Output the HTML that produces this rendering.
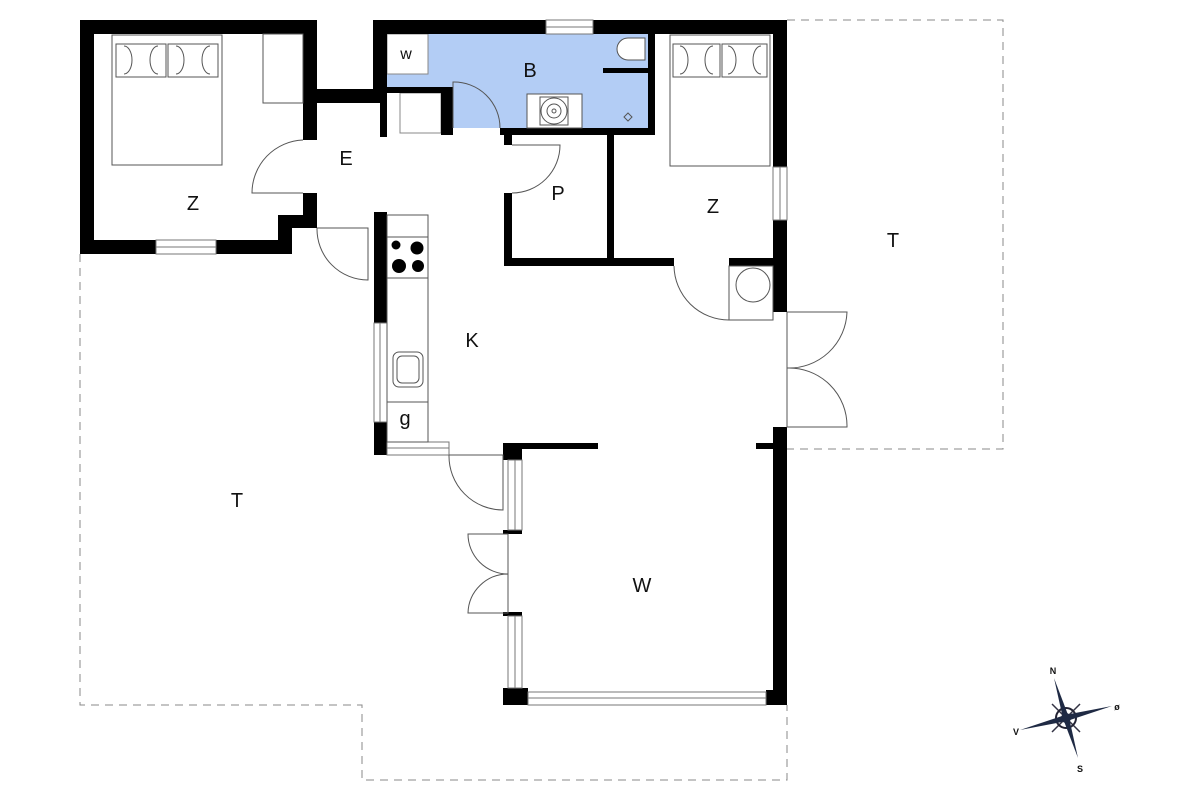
<!DOCTYPE html>
<html><head><meta charset="utf-8"><style>
html,body{margin:0;padding:0;background:#fff;}
svg{display:block}
text{font-family:"Liberation Sans",sans-serif;fill:#111;}
</style></head><body>
<svg width="1200" height="800" viewBox="0 0 1200 800" xmlns="http://www.w3.org/2000/svg">
<!-- bathroom fill -->
<rect x="387" y="34" width="261" height="94" fill="#b3cdf5"/>
<rect x="387" y="34" width="41" height="40" fill="#fff" stroke="#888" stroke-width="1"/>
<rect x="387" y="93" width="54" height="35" fill="#fff"/>
<rect x="400" y="93" width="41" height="40" fill="#fff" stroke="#888" stroke-width="1"/>

<!-- terraces dashed -->
<g fill="none" stroke="#888" stroke-width="1" stroke-dasharray="8,6">
<polyline points="787,20 1003,20 1003,449 787,449"/>
<polyline points="80,254 80,705 362,705 362,780 787,780 787,705"/>
</g>

<!-- walls -->
<g fill="#000">
<rect x="80" y="20" width="237" height="14"/>
<rect x="80" y="20" width="14" height="234"/>
<rect x="80" y="240" width="76" height="14"/>
<rect x="216" y="240" width="76" height="14"/>
<rect x="278" y="215" width="14" height="39"/>
<rect x="278" y="215" width="39" height="13"/>
<rect x="303" y="20" width="14" height="120"/>
<rect x="303" y="193" width="14" height="35"/>
<rect x="303" y="89" width="84" height="14"/>
<rect x="380" y="89" width="7" height="48"/>
<rect x="373" y="20" width="173" height="14"/>
<rect x="593" y="20" width="194" height="14"/>
<rect x="373" y="20" width="14" height="83"/>
<rect x="387" y="87" width="66" height="6"/>
<rect x="441" y="87" width="12" height="48"/>
<rect x="500" y="128" width="155" height="7"/>
<rect x="648" y="34" width="7" height="101"/>
<rect x="603" y="68" width="45" height="5"/>
<rect x="773" y="20" width="14" height="147"/>
<rect x="773" y="220" width="14" height="92"/>
<rect x="504" y="135" width="8" height="10"/>
<rect x="504" y="193" width="8" height="73"/>
<rect x="504" y="258" width="170" height="8"/>
<rect x="607" y="135" width="7" height="131"/>
<rect x="729" y="258" width="58" height="8"/>
<rect x="374" y="212" width="13" height="111"/>
<rect x="374" y="422" width="13" height="33"/>
<rect x="374" y="442" width="13" height="13"/>
<rect x="503" y="443" width="95" height="6"/>
<rect x="503" y="443" width="19" height="17"/>
<rect x="503" y="530" width="19" height="4"/>
<rect x="503" y="612" width="19" height="4"/>
<rect x="503" y="688" width="25" height="17"/>
<rect x="773" y="427" width="14" height="278"/>
<rect x="756" y="443" width="17" height="6"/>
<rect x="766" y="690" width="21" height="15"/>
</g>

<!-- windows -->
<g fill="#fff" stroke="#777" stroke-width="1">
<rect x="156" y="240" width="60" height="14"/><line x1="156" y1="247" x2="216" y2="247"/>
<rect x="546" y="20" width="47" height="14"/><line x1="546" y1="27" x2="593" y2="27"/>
<rect x="773" y="167" width="14" height="53"/><line x1="780" y1="167" x2="780" y2="220"/>
<rect x="374" y="323" width="13" height="99"/><line x1="380" y1="323" x2="380" y2="422"/>
<rect x="387" y="442" width="62" height="13"/><line x1="387" y1="448" x2="449" y2="448"/>
<rect x="508" y="460" width="14" height="70"/><line x1="515" y1="460" x2="515" y2="530"/>
<rect x="508" y="616" width="14" height="72"/><line x1="515" y1="616" x2="515" y2="688"/>
<rect x="528" y="692" width="238" height="13"/><line x1="528" y1="698" x2="766" y2="698"/>
</g>

<!-- doors / furniture lines -->
<g fill="none" stroke="#555" stroke-width="1">
<path d="M303,140 A53,53 0 0 0 252,193 L303,193"/>
<path d="M317,228 L368,228 L368,280 A51,51 0 0 1 317,228"/>
<path d="M453,128 L453,82 A46,46 0 0 1 500,128"/>
<path d="M512,145 L560,145 A48,48 0 0 1 512,193"/>
<path d="M674,266 A55,55 0 0 0 729,320 L729,266"/>
<rect x="729" y="266" width="44" height="54"/>
<circle cx="753" cy="285" r="17"/>
<path d="M787,312 L847,312 A58,58 0 0 1 787,368 A58,58 0 0 1 847,427 L787,427 L787,312"/>
<path d="M449,455 L503,455 L503,510 A54,54 0 0 1 449,455"/>
<path d="M508,534 L468,534 A40,40 0 0 0 508,574 A40,40 0 0 0 468,613 L508,613 Z"/>
<!-- left bedroom -->
<rect x="112" y="35" width="110" height="130"/>
<rect x="116" y="44" width="50" height="33"/><rect x="168" y="44" width="50" height="33"/>
<path d="M124,46 a8,14 0 0 1 0,28 M158,46 a8,14 0 0 0 0,28 M176,46 a8,14 0 0 1 0,28 M210,46 a8,14 0 0 0 0,28"/>
<rect x="263" y="34" width="40" height="69"/>
<!-- right bedroom -->
<rect x="670" y="35" width="100" height="131"/>
<rect x="673" y="44" width="47" height="33"/><rect x="722" y="44" width="45" height="33"/>
<path d="M680,46 a8,14 0 0 1 0,28 M713,46 a8,14 0 0 0 0,28 M728,46 a8,14 0 0 1 0,28 M761,46 a8,14 0 0 0 0,28"/>
<!-- bathroom fixtures -->
<path d="M645,38 L628,38 A11,11 0 0 0 628,60 L645,60 Z" fill="#fff"/>
<rect x="527" y="94" width="55" height="34" fill="#fff"/>
<circle cx="554" cy="111" r="13"/><circle cx="554" cy="111" r="7"/><circle cx="554" cy="111" r="2"/>
<rect x="540" y="97" width="28" height="28"/>
<path d="M628,113 l4,4 l-4,4 l-4,-4 z"/>
<!-- kitchen -->
<rect x="387" y="215" width="41" height="227"/>
<line x1="387" y1="237" x2="428" y2="237"/><line x1="387" y1="278" x2="428" y2="278"/>
<rect x="393" y="352" width="30" height="35" rx="6"/><rect x="397" y="356" width="22" height="27" rx="5"/>
<line x1="387" y1="402" x2="428" y2="402"/>
</g>
<g fill="#000">
<circle cx="396" cy="245" r="4.5"/><circle cx="417" cy="248" r="6.5"/>
<circle cx="399" cy="266" r="7"/><circle cx="418" cy="266" r="6"/>
</g>

<!-- labels -->
<g font-size="20" text-anchor="middle">
<text x="193" y="210">Z</text>
<text x="346" y="165">E</text>
<text x="530" y="77">B</text>
<text x="558" y="200">P</text>
<text x="713" y="213">Z</text>
<text x="893" y="247">T</text>
<text x="472" y="347">K</text>
<text x="405" y="425">g</text>
<text x="237" y="507">T</text>
<text x="642" y="592">W</text>
<text x="406" y="59" font-size="16">w</text>
</g>

<!-- compass -->
<g transform="translate(1066,718)">
<g stroke="#334" stroke-width="1.5"><line x1="-14" y1="-14" x2="14" y2="14"/><line x1="14" y1="-14" x2="-14" y2="14"/></g>
<circle r="10" fill="none" stroke="#223" stroke-width="2"/>
<polygon points="-12,-40 -4,-4 4,2" fill="#1f2a44"/>
<polygon points="12,40 4,4 -4,-2" fill="#1f2a44"/>
<polygon points="46,-12 4,-4 -2,4" fill="#1f2a44"/>
<polygon points="-46,12 -4,4 2,-4" fill="#1f2a44"/>
<circle r="5" fill="#1f2a44"/>
<g font-size="9" font-weight="bold" text-anchor="middle">
<text x="-13" y="-44">N</text><text x="14" y="54">S</text>
<text x="51" y="-8">ø</text><text x="-50" y="17">V</text>
</g>
</g>
</svg>
</body></html>
